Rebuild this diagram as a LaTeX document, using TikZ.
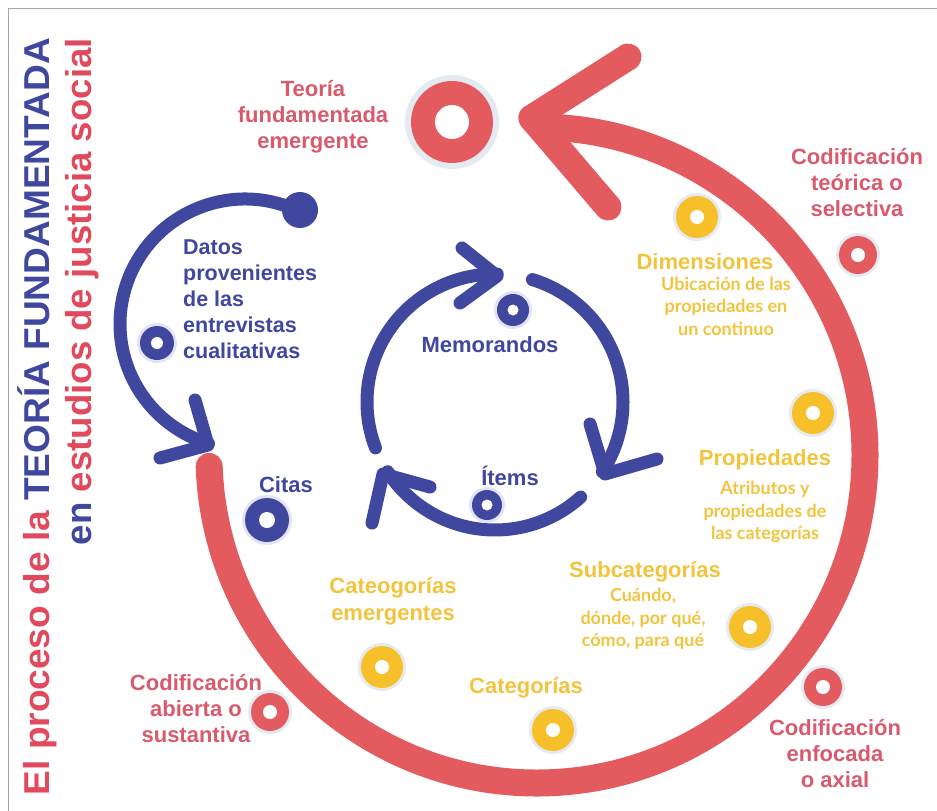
\documentclass[tikz,border=0pt]{standalone}
\usepackage{fontspec}
\usepackage{graphicx}
\setmainfont{Liberation Sans}
\newfontfamily\subfont{Lato}
\newfontfamily\titlefont{Liberation Sans}

\definecolor{arcred}{HTML}{E35A5F}
\definecolor{txtred}{HTML}{D85A6C}
\definecolor{ttlred}{HTML}{E04A5C}
\definecolor{procblue}{HTML}{3F479E}
\definecolor{ringyel}{HTML}{F7C02A}
\definecolor{txtyel}{HTML}{F2C43E}
\definecolor{halo}{HTML}{E4EAF1}
\definecolor{bluehalo}{HTML}{E2E4F4}

\begin{document}
\begin{tikzpicture}[x=1pt, y=-1pt,
  redarc/.style={arcred, line width=27pt, line cap=round, line join=round},
  bluearc/.style={procblue, line width=13pt, line cap=round, line join=round},
  redlbl/.style={txtred, font=\bfseries\fontsize{22}{26}\selectfont, align=center, inner sep=0pt},
  bluelbl/.style={procblue, font=\bfseries\fontsize{22}{26}\selectfont, inner sep=0pt},
  ylwhead/.style={txtyel, font=\bfseries\fontsize{22}{27}\selectfont, align=center, inner sep=0pt},
  ylwsub/.style={txtyel, font=\subfont\bfseries\fontsize{18}{22.5}\selectfont, align=center, inner sep=0pt},
  titleline/.style={rotate=90, anchor=base east, inner sep=0pt, font=\titlefont\bfseries\fontsize{36}{36}\selectfont}]
\useasboundingbox (0,0) rectangle (937,811);

% Frame
\draw[gray!70, line width=1pt] (8,811) -- (8,8) -- (937,8);

% Title
\node[titleline] (title1) at (49,38) {\resizebox{757pt}{\height}{\textcolor{ttlred}{El proceso de la} \textcolor{procblue}{TEORÍA FUNDAMENTADA}}};
\node[titleline] (title2) at (91,38) {\resizebox{507pt}{\height}{\textcolor{procblue}{en} \textcolor{ttlred}{estudios de justicia social}}};

% Outer cycle
\coordinate (outer) at (537,455);
\draw[redarc] (outer) ++(178:328) arc[start angle=178, end angle=-88, radius=328] -- (532,118);
\draw[redarc] (628,57) -- (532,118) -- (608,207);

% Data arc
\coordinate (datos) at (245,324);
\draw[bluearc] (datos) ++(-64:125) arc[start angle=-64, end angle=-253, radius=125];
\fill[procblue] (300,210) circle (18);
\draw[bluearc] (195,400) -- (208,445) -- (160,458);

% Inner cycle
\coordinate (inner) at (495,402);
\draw[bluearc] (inner) ++(159:128) arc[start angle=159, end angle=271, radius=128];
\draw[bluearc] (462,248) -- (497,276) -- (460,303);
\draw[bluearc] (inner) ++(287:128) arc[start angle=287, end angle=393, radius=128];
\draw[bluearc] (590,424) -- (605,474) -- (657,459);
\draw[bluearc] (inner) ++(48:128) arc[start angle=48, end angle=147, radius=128];
\draw[bluearc] (430,487) -- (383,474) -- (372,523);

% Rings
\fill[halo] (452,122) circle (47);
\fill[arcred] (452,122) circle (41);
\fill[white] (452,122) circle (17);
\foreach \px/\py in {858/255, 823/687, 270/712} {
  \fill[halo] (\px,\py) circle (22);
  \fill[arcred] (\px,\py) circle (19);
  \fill[white] (\px,\py) circle (7);
}
\foreach \px/\py in {697/217, 813/413, 750/627, 382/667, 553/730} {
  \fill[halo] (\px,\py) circle (24);
  \fill[ringyel] (\px,\py) circle (21);
  \fill[white] (\px,\py) circle (7);
}
\foreach \px/\py/\pr/\pw in {157/343/17/6, 267/520/22/8, 513/310/16/5.5, 487/505/15/5.5} {
  \fill[bluehalo] (\px,\py) circle (\pr+3);
  \fill[procblue] (\px,\py) circle (\pr);
  \fill[white] (\px,\py) circle (\pw);
}

% Labels
\node[redlbl] (emergente) at (313,117) {Teoría\\fundamentada\\emergente};
\node[redlbl] (selectiva) at (857,183) {Codificación\\teórica o\\selectiva};
\node[redlbl] (abierta) at (196,709) {Codificación\\abierta o\\sustantiva};
\node[redlbl] (axial) at (835,754) {Codificación\\enfocada\\o axial};

\node[ylwhead] (dim) at (705,262) {Dimensiones};
\node[ylwsub] (dimsub) at (726,306) {Ubicación de las\\propiedades en\\un continuo};
\node[ylwhead] (prop) at (765,460) {Propiedades};
\node[ylwsub] (propsub) at (765,512) {Atributos y\\propiedades de\\las categorías};
\node[ylwhead] (subcat) at (645,572) {Subcategorías};
\node[ylwsub] (subcatsub) at (643,619) {Cuándo,\\dónde, por qué,\\cómo, para qué};
\node[ylwhead] (catemer) at (393,601) {Cateogorías\\emergentes};
\node[ylwhead] (cat) at (526,688) {Categorías};

\node[bluelbl, align=left, anchor=west, font=\bfseries\fontsize{21.5}{26}\selectfont] (fuente) at (183,299) {Datos\\provenientes\\de las\\entrevistas\\cualitativas};
\node[bluelbl] (memo) at (490,345) {Memorandos};
\node[bluelbl] (items) at (510,476) {Ítems};
\node[bluelbl] (citas) at (286,485) {Citas};
\end{tikzpicture}
\end{document}
